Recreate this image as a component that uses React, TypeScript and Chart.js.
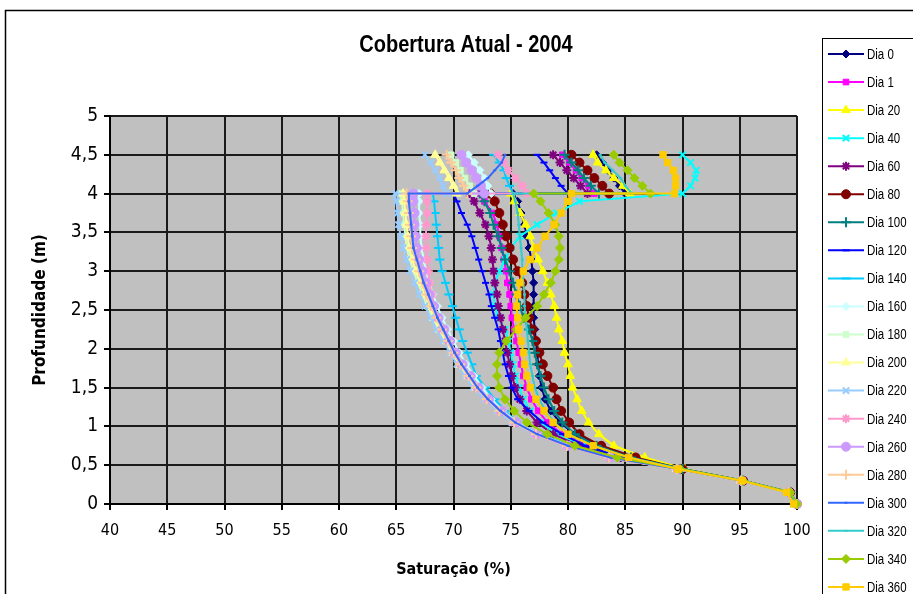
import React, { useEffect, useRef } from 'react';
import { Chart, registerables } from 'chart.js';
import { drawPoint } from 'chart.js/helpers';

Chart.register(...registerables);

// Depths (m): lower layer 0 → 4.0, then upper layer 4.0 → 4.5
const DEPTHS = [0, 0.15, 0.3, 0.45, 0.6, 0.75, 0.9, 1.05, 1.2, 1.35, 1.5, 1.65, 1.8, 1.95, 2.1, 2.25, 2.4, 2.55, 2.7, 2.85, 3.0, 3.15, 3.3, 3.45, 3.6, 3.75, 3.9, 4.0, 4.0, 4.1, 4.2, 4.3, 4.4, 4.5];

const X_TICKS = [40, 45, 50, 55, 60, 65, 70, 75, 80, 85, 90, 95, 100];
const Y_TICKS = [0, 0.5, 1, 1.5, 2, 2.5, 3, 3.5, 4, 4.5, 5];

const SERIES_NAMES = ['Dia 0', 'Dia 1', 'Dia 20', 'Dia 40', 'Dia 60', 'Dia 80', 'Dia 100', 'Dia 120', 'Dia 140', 'Dia 160', 'Dia 180', 'Dia 200', 'Dia 220', 'Dia 240', 'Dia 260', 'Dia 280', 'Dia 300', 'Dia 320', 'Dia 340', 'Dia 360'];

// Saturation (%) per depth, same order as DEPTHS
const DIA_0 = [100, 99.4, 95.3, 90.0, 85.8, 82.8, 80.6, 79.3, 78.5, 78.0, 77.7, 77.5, 77.4, 77.3, 77.2, 77.1, 77.0, 77.0, 77.0, 77.0, 76.9, 76.8, 76.6, 76.4, 76.2, 75.9, 75.6, 75.2, 85.0, 84.5, 84.0, 83.5, 83.0, 82.5];
const DIA_1 = [100, 99.4, 95.3, 89.9, 85.0, 81.7, 79.5, 78.2, 77.4, 76.8, 76.4, 76.1, 75.9, 75.7, 75.5, 75.3, 75.1, 75.0, 74.9, 74.7, 74.6, 74.4, 74.2, 74.0, 73.8, 73.4, 72.7, 72.2, 82.3, 81.8, 81.2, 80.7, 80.1, 79.5];
const DIA_20 = [100, 99.4, 95.3, 90.2, 86.7, 84.0, 82.7, 81.8, 81.2, 80.8, 80.4, 80.2, 80.0, 79.7, 79.5, 79.2, 79.0, 78.8, 78.5, 78.2, 77.8, 77.4, 77.0, 76.7, 76.3, 75.8, 75.3, 75.0, 85.4, 84.8, 84.0, 83.3, 82.6, 82.2];
const DIA_40 = [100, 99.4, 95.3, 89.8, 84.8, 81.3, 79.0, 77.6, 76.7, 76.1, 75.7, 75.4, 75.2, 75.0, 74.8, 74.5, 73.9, 73.6, 73.5, 73.6, 74.0, 74.5, 75.0, 75.8, 77.3, 79.0, 81.0, null, 90.0, 90.7, 91.1, 91.2, 90.7, 90.0];
const DIA_60 = [100, 99.4, 95.3, 89.8, 84.6, 81.0, 78.7, 77.3, 76.4, 75.8, 75.4, 75.1, 74.9, 74.7, 74.5, 74.3, 74.1, 73.9, 73.8, 73.6, 73.5, 73.4, 73.3, 73.1, 72.8, 72.3, 71.8, 71.4, 81.7, 81.1, 80.5, 79.9, 79.3, 78.7];
const DIA_80 = [100, 99.4, 95.3, 90.0, 85.9, 82.9, 81.0, 80.1, 79.4, 79.0, 78.7, 78.2, 77.8, 77.5, 77.2, 76.9, 76.6, 76.4, 76.2, 76.0, 75.6, 75.2, 74.9, 74.6, 74.3, 74.0, 73.6, 73.2, 83.6, 83.0, 82.3, 81.7, 81.0, 80.3];
const DIA_100 = [100, 99.4, 95.3, 90.0, 85.5, 82.5, 80.6, 79.5, 78.8, 78.3, 77.9, 77.6, 77.3, 77.1, 76.9, 76.6, 76.1, 75.8, 75.5, 75.2, 74.9, 74.5, 74.2, 73.9, 73.5, 73.2, 72.7, 72.3, 82.7, 82.0, 81.4, 80.9, 80.3, 79.7];
const DIA_120 = [100, 99.3, 95.2, 89.7, 84.6, 81.5, 79.5, 77.8, 76.6, 75.6, 75.1, 74.8, 74.5, 74.3, 74.1, 73.9, 73.6, 73.3, 73.1, 72.8, 72.5, 72.2, 71.9, 71.6, 71.2, 70.7, 70.3, 70.0, 80.0, 79.4, 78.9, 78.4, 77.9, 77.3];
const DIA_140 = [100, 99.3, 95.2, 89.6, 84.0, 80.3, 77.5, 75.6, 74.5, 73.6, 72.8, 72.0, 71.6, 71.2, 70.8, 70.5, 70.2, 69.9, 69.6, 69.3, 69.0, 68.8, 68.7, 68.6, 68.5, 68.4, 68.3, 68.2, 75.2, 74.9, 74.6, 74.4, 74.0, 73.5];
const DIA_160 = [100, 99.3, 95.2, 89.6, 83.8, 80.1, 77.4, 75.6, 74.3, 73.3, 72.5, 71.8, 71.1, 70.5, 70.0, 69.5, 69.0, 68.6, 68.2, 67.9, 67.6, 67.4, 67.2, 67.1, 67.1, 67.0, 67.0, 67.0, 73.3, 73.0, 72.7, 72.3, 71.8, 71.3];
const DIA_180 = [100, 99.3, 95.1, 89.5, 83.6, 79.9, 77.1, 75.2, 73.9, 72.8, 71.8, 71.1, 70.4, 69.8, 69.3, 68.7, 68.2, 67.7, 67.3, 66.9, 66.5, 66.2, 65.9, 65.8, 65.7, 65.6, 65.5, 65.4, 71.8, 71.4, 71.0, 70.6, 70.2, 69.8];
const DIA_200 = [100, 99.3, 95.1, 89.5, 83.6, 79.9, 77.2, 75.3, 74.0, 72.9, 71.9, 71.2, 70.5, 69.9, 69.4, 68.8, 68.3, 67.9, 67.5, 67.1, 66.7, 66.4, 66.1, 66.0, 65.9, 65.8, 65.7, 65.6, 70.3, 70.0, 69.6, 69.2, 68.8, 68.4];
const DIA_220 = [100, 99.3, 95.1, 89.5, 83.5, 79.8, 77.0, 75.1, 73.8, 72.7, 71.7, 71.0, 70.3, 69.7, 69.1, 68.5, 68.0, 67.5, 67.0, 66.6, 66.2, 65.9, 65.6, 65.4, 65.2, 65.1, 65.0, 64.9, 69.4, 69.1, 68.8, 68.4, 68.0, 67.5];
const DIA_240 = [100, 99.3, 95.1, 89.5, 83.5, 79.8, 77.1, 75.3, 74.0, 72.9, 72.0, 71.3, 70.6, 70.0, 69.5, 69.0, 68.6, 68.3, 68.1, 67.9, 67.8, 67.7, 67.6, 67.6, 67.6, 67.7, 67.7, 67.7, 76.4, 76.0, 75.4, 74.8, 74.4, 73.9];
const DIA_260 = [100, 99.3, 95.2, 89.6, 83.7, 80.0, 77.3, 75.5, 74.2, 73.1, 72.2, 71.5, 70.8, 70.2, 69.7, 69.2, 68.7, 68.3, 67.9, 67.6, 67.3, 67.0, 66.8, 66.7, 66.6, 66.6, 66.5, 66.5, 72.7, 72.4, 72.0, 71.6, 71.1, 70.7];
const DIA_280 = [100, 99.3, 95.1, 89.5, 83.6, 79.9, 77.2, 75.3, 74.0, 72.9, 72.0, 71.3, 70.6, 70.0, 69.5, 69.0, 68.5, 68.0, 67.6, 67.3, 67.0, 66.7, 66.4, 66.3, 66.2, 66.1, 66.0, 65.9, 71.2, 70.9, 70.5, 70.2, 69.8, 69.4];
const DIA_300 = [100, 99.3, 95.2, 89.6, 83.7, 80.0, 77.3, 75.4, 74.1, 73.0, 72.1, 71.4, 70.7, 70.1, 69.6, 69.1, 68.6, 68.2, 67.8, 67.4, 67.1, 66.8, 66.5, 66.4, 66.3, 66.2, 66.1, 66.1, 71.2, 72.1, 73.0, 73.6, 74.2, 74.5];
const DIA_320 = [100, 99.4, 95.3, 89.9, 85.3, 82.2, 80.0, 78.8, 78.0, 77.5, 77.1, 76.9, 76.7, 76.6, 76.5, 76.4, 76.3, 76.2, 76.2, 76.1, 76.0, 76.0, 75.9, 75.8, 75.7, 75.6, 75.4, 75.2, 85.6, 85.0, 84.6, 83.9, 83.2, 82.8];
const DIA_340 = [100, 99.4, 95.3, 89.8, 84.3, 80.6, 78.2, 76.4, 75.3, 74.5, 74.0, 73.8, 73.8, 74.0, 74.6, 75.5, 76.3, 77.3, 77.9, 78.5, 78.9, 79.2, 79.3, 79.2, 78.9, 78.3, 77.6, 77.0, 87.2, 86.5, 85.8, 85.2, 84.5, 84.0];
const DIA_360 = [99.7, 99.1, 95.2, 89.6, 85.3, 82.2, 80.0, 78.7, 77.9, 77.2, 76.7, 76.4, 76.2, 76.1, 75.9, 75.7, 75.6, 75.5, 75.6, 75.8, 76.1, 76.7, 77.3, 78.0, 78.8, 79.4, 80.0, 80.3, 89.3, 89.4, 89.4, 89.2, 88.7, 88.3];

const SERIES_VALUES = [DIA_0, DIA_1, DIA_20, DIA_40, DIA_60, DIA_80, DIA_100, DIA_120, DIA_140, DIA_160, DIA_180, DIA_200, DIA_220, DIA_240, DIA_260, DIA_280, DIA_300, DIA_320, DIA_340, DIA_360];

const SERIES_COLORS = ['#000080', '#FF00FF', '#FFFF00', '#00FFFF', '#800080', '#800000', '#008080', '#0000FF', '#00CCFF', '#CCFFFF', '#CCFFCC', '#FFFF99', '#99CCFF', '#FF99CC', '#CC99FF', '#FFCC99', '#3366FF', '#33CCCC', '#99CC00', '#FFCC00'];
const SERIES_MARKERS = ['rectRot', 'rect', 'triangle', 'crossRot', 'star', 'circle', 'cross', 'line', 'line', 'rectRot', 'rect', 'triangle', 'crossRot', 'star', 'circle', 'cross', 'line', 'line', 'rectRot', 'rect'];
const SERIES_RADII = [4, 4, 5, 4.5, 4.5, 4.5, 5, 3.5, 4.5, 4, 4, 5, 4.5, 4.5, 4.5, 5, 1.5, 1.5, 4.5, 4.5];

const NARROW = "'Liberation Sans Narrow', 'Arial Narrow', 'DejaVu Sans Condensed', 'Liberation Sans', Arial, sans-serif";
const SANS = "'Liberation Sans', Arial, sans-serif";

const decorPlugin = {
  id: 'decor',
  beforeDraw(chart: any) {
    const { ctx, chartArea: a } = chart;
    ctx.save();
    ctx.fillStyle = '#ffffff';
    ctx.fillRect(0, 0, chart.width, chart.height);
    ctx.fillStyle = '#c0c0c0';
    ctx.fillRect(a.left, a.top, a.right - a.left, a.bottom - a.top);
    ctx.strokeStyle = '#000';
    ctx.lineWidth = 1.5;
    ctx.beginPath();
    ctx.moveTo(5.5, chart.height + 5);
    ctx.lineTo(5.5, 10.5);
    ctx.lineTo(chart.width + 5, 10.5);
    ctx.stroke();
    ctx.restore();
  },
  afterDraw(chart: any) {
    const { ctx } = chart;
    // title (horizontally condensed)
    ctx.save();
    ctx.fillStyle = '#000';
    ctx.font = `bold 23px ${SANS}`;
    ctx.textAlign = 'center';
    ctx.textBaseline = 'middle';
    ctx.translate(466, 46);
    ctx.scale(0.87, 1);
    ctx.fillText('Cobertura Atual - 2004', 0, 0);
    ctx.restore();

    // legend box
    ctx.save();
    ctx.fillStyle = '#fff';
    ctx.fillRect(822, 38, 200, 700);
    ctx.strokeStyle = '#000';
    ctx.lineWidth = 1;
    ctx.strokeRect(822.5, 38.5, 200, 700);
    chart.data.datasets.forEach((ds: any, i: number) => {
      const y = 54 + i * 28.05;
      ctx.strokeStyle = ds.borderColor;
      ctx.lineWidth = 2;
      ctx.beginPath();
      ctx.moveTo(828, y);
      ctx.lineTo(864, y);
      ctx.stroke();
      ctx.fillStyle = ds.pointBackgroundColor;
      ctx.strokeStyle = ds.pointBorderColor;
      ctx.lineWidth = ds.pointBorderWidth;
      drawPoint(ctx, { pointStyle: ds.pointStyle, radius: ds.pointRadius, rotation: 0, borderWidth: ds.pointBorderWidth }, 846, y);
      ctx.save();
      ctx.fillStyle = '#000';
      ctx.font = `14px ${SANS}`;
      ctx.textAlign = 'left';
      ctx.textBaseline = 'middle';
      ctx.translate(867, y + 1);
      ctx.scale(0.82, 1);
      ctx.fillText(ds.label, 0, 0);
      ctx.restore();
    });
    ctx.restore();
  },
};

export default function App() {
  const ref = useRef<HTMLCanvasElement>(null);
  useEffect(() => {
    if (!ref.current) return;
    const datasets = SERIES_NAMES.map((name, i) => {
      const points = DEPTHS.map((d, j) => ({ x: SERIES_VALUES[i][j], y: d })).filter((p) => p.x !== null && p.x !== undefined);
      const lineMarker = SERIES_MARKERS[i] === 'line' || SERIES_MARKERS[i] === 'cross' || SERIES_MARKERS[i] === 'crossRot' || SERIES_MARKERS[i] === 'star';
      return {
        label: name,
        data: points,
        showLine: true,
        borderColor: SERIES_COLORS[i],
        backgroundColor: SERIES_COLORS[i],
        pointBackgroundColor: SERIES_COLORS[i],
        pointBorderColor: SERIES_COLORS[i],
        pointBorderWidth: lineMarker ? 2 : 1,
        pointStyle: SERIES_MARKERS[i],
        pointRadius: SERIES_RADII[i],
        borderWidth: 2,
        tension: 0,
        clip: false,
        order: SERIES_NAMES.length - i,
      };
    });
    const chart = new Chart(ref.current, {
      type: 'scatter',
      data: { datasets },
      options: {
        animation: false,
        responsive: false,
        maintainAspectRatio: false,
        layout: { padding: { left: 26, right: 116, top: 116, bottom: 11 } },
        plugins: {
          legend: { display: false },
          tooltip: { enabled: false },
          title: { display: false },
        },
        scales: {
          x: {
            type: 'linear',
            min: 40,
            max: 100,
            afterBuildTicks: (scale: any) => {
              scale.ticks = X_TICKS.map((v) => ({ value: v }));
            },
            afterFit: (scale: any) => {
              scale.height = 79;
            },
            ticks: { color: '#000', font: { size: 16, family: NARROW }, padding: 11, maxRotation: 0, autoSkip: false },
            grid: { color: '#1a1a1a', lineWidth: 2, tickLength: 6, tickColor: '#000' },
            border: { color: '#000', width: 2 },
            title: { display: true, text: 'Saturação (%)', color: '#000', font: { size: 16, weight: 'bold', family: NARROW }, padding: 4 },
          },
          y: {
            type: 'linear',
            min: 0,
            max: 5,
            afterBuildTicks: (scale: any) => {
              scale.ticks = Y_TICKS.map((v) => ({ value: v }));
            },
            afterFit: (scale: any) => {
              scale.width = 84;
            },
            ticks: {
              color: '#000',
              font: { size: 19, family: NARROW },
              padding: 6,
              autoSkip: false,
              callback: (v: any) => String(v).replace('.', ','),
            },
            grid: { color: '#1a1a1a', lineWidth: 2, tickLength: 6, tickColor: '#000' },
            border: { color: '#000', width: 2 },
            title: { display: true, text: 'Profundidade (m)', color: '#000', font: { size: 17, weight: 'bold', family: NARROW }, padding: 4 },
          },
        },
      },
      plugins: [decorPlugin],
    } as any);
    return () => chart.destroy();
  }, []);
  return (
    <div style={{ position: 'absolute', left: 0, top: 0, width: 913, height: 594 }}>
      <canvas ref={ref} width={913} height={594} style={{ width: 913, height: 594, display: 'block' }} />
    </div>
  );
}
